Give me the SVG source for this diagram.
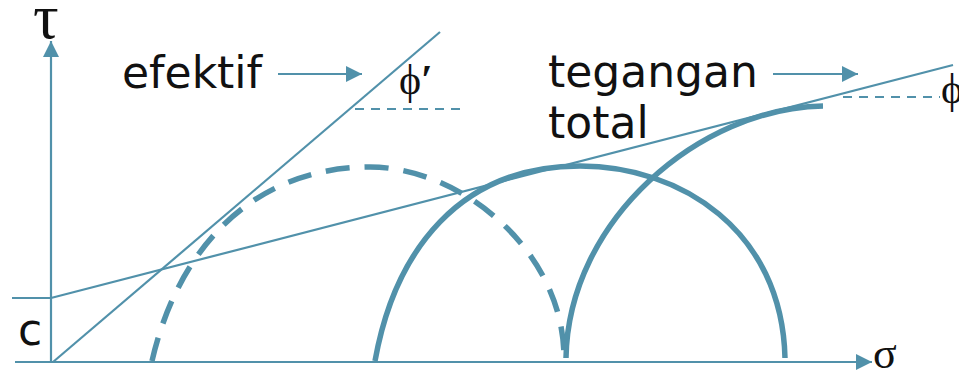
<svg xmlns="http://www.w3.org/2000/svg" width="959" height="373" viewBox="0 0 959 373">
<style>
.thin{fill:none;stroke:#5191aa;stroke-width:2.2}
.thick{fill:none;stroke:#5191aa;stroke-width:5.5}
.dthin{fill:none;stroke:#5191aa;stroke-width:2;stroke-dasharray:9 7}
.dthick{fill:none;stroke:#5191aa;stroke-width:5.5;stroke-dasharray:24 15}
.lbl{font-family:"DejaVu Sans",Verdana,sans-serif;font-size:44px;fill:#111}
.gr{font-family:"Liberation Serif","Times New Roman",serif;fill:#111}
</style>
<defs>
<marker id="ah" markerWidth="17" markerHeight="17" refX="16" refY="8" orient="auto" markerUnits="userSpaceOnUse">
<path d="M0,0 L16,8 L0,16 Z" fill="#5191aa"/>
</marker>
</defs>
<g id="axes">
<line class="thin" x1="51" y1="362" x2="51" y2="41" marker-end="url(#ah)"/>
<line class="thin" x1="15" y1="362" x2="872" y2="362" marker-end="url(#ah)"/>
<line class="thin" x1="12" y1="298" x2="51" y2="298"/>
</g>
<g id="envelopes">
<line class="thin" x1="53" y1="362" x2="440" y2="32"/>
<line class="thin" x1="51" y1="298" x2="953" y2="65"/>
<line class="dthin" x1="355" y1="109" x2="460" y2="109"/>
<line class="dthin" x1="843" y1="97" x2="940" y2="97"/>
</g>
<g id="circles">
<path class="dthick" d="M152,361 C180,240 260,167 370,167 C460,167 564,250 564,358"/>
<path class="thick" d="M375,361 C395,250 460,166 580,166 C680,166 782,230 785,358"/>
<path class="thick" d="M566,358 C568,220 700,108 823,106"/>
</g>
<g id="connectors">
<line class="thin" x1="278" y1="74" x2="362" y2="74" marker-end="url(#ah)"/>
<line class="thin" x1="773" y1="74" x2="858" y2="74" marker-end="url(#ah)"/>
</g>
<g id="labels">
<text class="gr" x="33" y="38" font-size="64">τ</text>
<text class="gr" x="873" y="368" font-size="44">σ</text>
<text class="gr" x="399" y="94" font-size="42">ϕ<tspan font-weight="bold">′</tspan></text>
<text class="gr" x="941" y="103" font-size="42">ϕ</text>
<text class="lbl" x="122" y="88">efektif</text>
<text class="lbl" x="548" y="87">tegangan</text>
<text class="lbl" x="548" y="138">total</text>
<text class="lbl" x="18" y="345">c</text>
</g>
</svg>
